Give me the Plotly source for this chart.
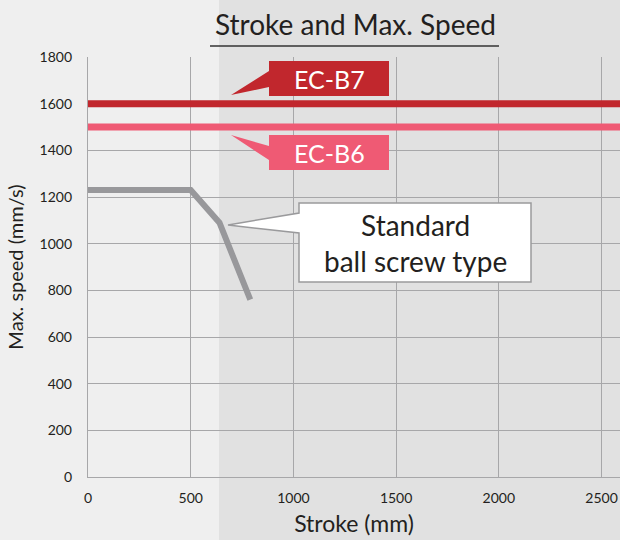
import plotly.graph_objects as go

# ---- data ----
stroke_b7 = [0, 2600]
speed_b7 = [1600, 1600]
stroke_b6 = [0, 2600]
speed_b6 = [1500, 1500]
stroke_std = [0, 500, 640, 790]
speed_std = [1230, 1230, 1090, 760]
x_ticks = [0, 500, 1000, 1500, 2000, 2500]
y_ticks = [0, 200, 400, 600, 800, 1000, 1200, 1400, 1600, 1800]

W, H = 620, 540
ML, MR, MT, MB = 88, 0, 57, 63
PW, PH = W - ML - MR, H - MT - MB

def px(x, y):
    return (x - ML) / PW, (H - MB - y) / PH

def path(points):
    s = ""
    for i, (x, y) in enumerate(points):
        u, v = px(x, y)
        s += ("M" if i == 0 else "L") + f"{u:.5f},{v:.5f} "
    return s + "Z"

FONT = "Lato"
TXT = "#231f20"
RED = "#c1272d"
PINK = "#ef5a74"
GRAY = "#98989b"
GRID = "#a7a7a9"

fig = go.Figure()
fig.add_trace(go.Scatter(x=stroke_std, y=speed_std, mode="lines",
                         line=dict(color=GRAY, width=6), hoverinfo="skip"))
fig.add_trace(go.Scatter(x=stroke_b7, y=speed_b7, mode="lines",
                         line=dict(color=RED, width=7), hoverinfo="skip"))
fig.add_trace(go.Scatter(x=stroke_b6, y=speed_b6, mode="lines",
                         line=dict(color=PINK, width=7), hoverinfo="skip"))

shapes = []
# shaded background band
x0, _ = px(219, 0)
shapes.append(dict(type="rect", xref="paper", yref="paper", x0=x0, x1=1.05,
                   y0=-0.3, y1=1.3, fillcolor="#e1e1e1", line=dict(width=0), layer="below"))
# title underline
u0, v0 = px(210, 46)
u1, _ = px(499, 46)
shapes.append(dict(type="line", xref="paper", yref="paper", x0=u0, x1=u1, y0=v0, y1=v0,
                   line=dict(color="#333333", width=1.5)))
# EC-B7 callout
shapes.append(dict(type="path", xref="paper", yref="paper",
                   path=path([(231, 95), (269, 71), (269, 61), (389, 61), (389, 96), (269, 96), (269, 87)]),
                   fillcolor=RED, line=dict(width=0)))
# EC-B6 callout
shapes.append(dict(type="path", xref="paper", yref="paper",
                   path=path([(231, 135), (269, 146), (269, 135), (389, 135), (389, 170), (269, 170), (269, 160)]),
                   fillcolor=PINK, line=dict(width=0)))
# Standard callout
shapes.append(dict(type="path", xref="paper", yref="paper",
                   path=path([(228, 225), (299, 213), (299, 203), (531, 203), (531, 282), (299, 282), (299, 233)]),
                   fillcolor="white", line=dict(color="#9a9a9c", width=1.5)))

annotations = []
def ann(text, x, y, size, color=TXT):
    u, v = px(x, y)
    annotations.append(dict(text=text, xref="paper", yref="paper", x=u, y=v,
                            xanchor="center", yanchor="middle", showarrow=False,
                            font=dict(family=FONT, size=size, color=color)))

ann("Stroke and Max. Speed", 355, 24, 28)
ann("EC-B7", 329, 79, 25, "white")
ann("EC-B6", 329, 153, 25, "white")
ann("Standard<br>ball screw type", 415, 243, 28)

fig.update_layout(
    width=W, height=H,
    margin=dict(l=ML, r=MR, t=MT, b=MB),
    paper_bgcolor="#efefef", plot_bgcolor="rgba(0,0,0,0)",
    showlegend=False,
    shapes=shapes, annotations=annotations,
    font=dict(family=FONT, color=TXT),
)
fig.update_xaxes(range=[0, 2590], tickvals=x_ticks, showgrid=True, gridcolor=GRID, gridwidth=1.4,
                 showline=True, linecolor=GRID, linewidth=1.4, zeroline=False,
                 ticks="outside", ticklen=8, tickcolor="rgba(0,0,0,0)",
                 tickfont=dict(size=14, color=TXT),
                 title=dict(text="Stroke (mm)", font=dict(size=23, color=TXT), standoff=10))
fig.update_yaxes(range=[0, 1800], tickvals=y_ticks, showgrid=True, gridcolor=GRID, gridwidth=1.4,
                 showline=True, linecolor=GRID, linewidth=1.4, zeroline=False,
                 ticks="outside", ticklen=12, tickcolor="rgba(0,0,0,0)",
                 tickfont=dict(size=14, color=TXT),
                 title=dict(text="Max. speed (mm/s)", font=dict(size=20, color=TXT), standoff=10))

fig.write_html("out.html", config={"displayModeBar": False},
               post_script="document.body.style.margin='0';document.body.style.background='#efefef';")
